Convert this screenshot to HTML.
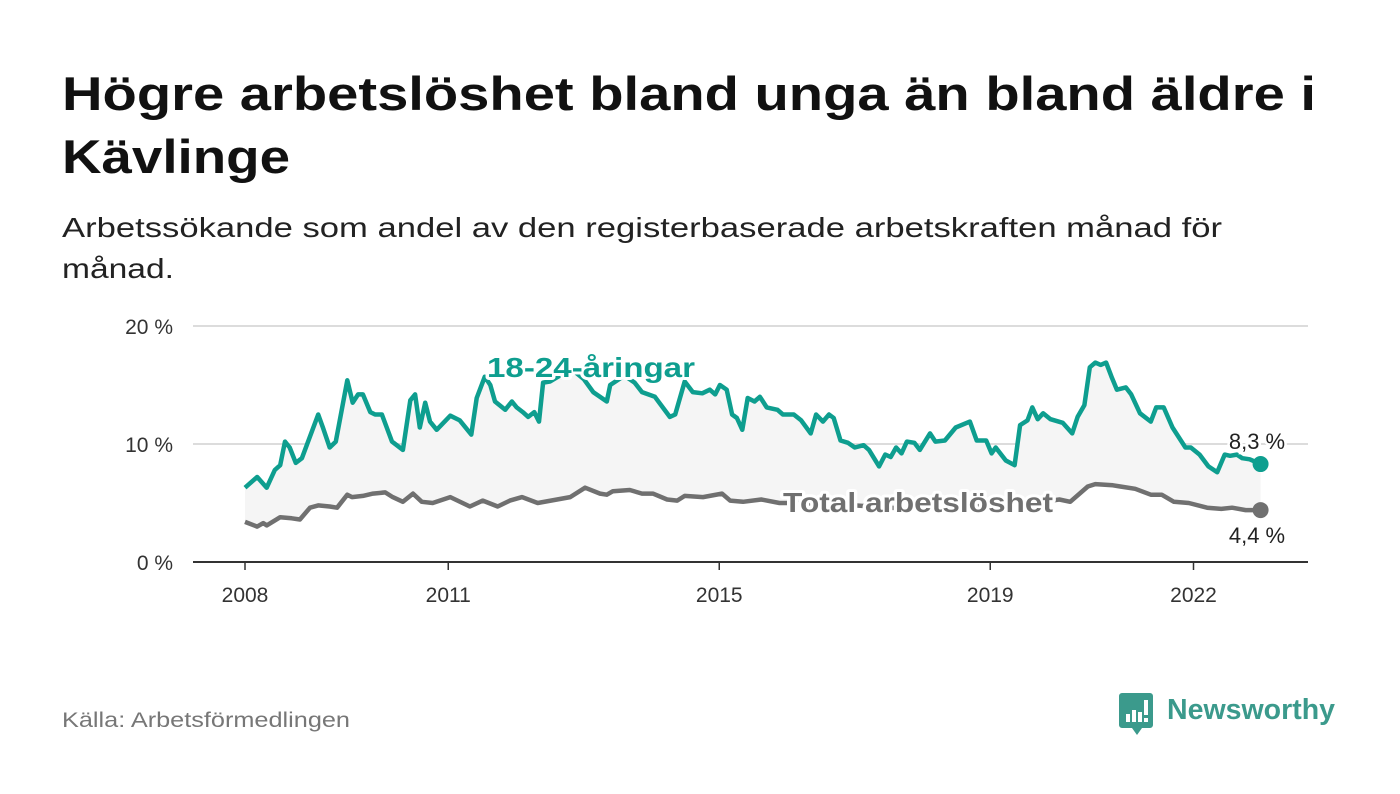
<!DOCTYPE html>
<html><head><meta charset="utf-8">
<style>
html,body{margin:0;padding:0;background:#fff;}
svg{display:block;font-family:"Liberation Sans",sans-serif;}
</style></head>
<body>
<svg id="chart" width="1400" height="794" viewBox="0 0 1400 794">
  <text x="62" y="110" font-size="47" font-weight="bold" fill="#111" textLength="1254" lengthAdjust="spacingAndGlyphs">Högre arbetslöshet bland unga än bland äldre i</text>
  <text x="62" y="173" font-size="47" font-weight="bold" fill="#111" textLength="228" lengthAdjust="spacingAndGlyphs">Kävlinge</text>
  <text x="62" y="237" font-size="28" fill="#222" textLength="1160" lengthAdjust="spacingAndGlyphs">Arbetssökande som andel av den registerbaserade arbetskraften månad för</text>
  <text x="62" y="278" font-size="28" fill="#222" textLength="112" lengthAdjust="spacingAndGlyphs">månad.</text>
  <g id="grid"></g>
  <g id="marks"></g>
  <text x="62" y="727" font-size="21" fill="#777" textLength="288" lengthAdjust="spacingAndGlyphs">Källa: Arbetsförmedlingen</text>
  <g>
    <path d="M1122 693 H1150 a3 3 0 0 1 3 3 V725 a3 3 0 0 1 -3 3 H1142 L1137 735 L1132 728 H1122 a3 3 0 0 1 -3 -3 V696 a3 3 0 0 1 3 -3Z" fill="#3b9a8c"/>
    <rect x="1126" y="714" width="4" height="8" fill="#fff"/>
    <rect x="1132" y="710" width="4" height="12" fill="#fff"/>
    <rect x="1138" y="712" width="4" height="10" fill="#fff"/>
    <rect x="1144" y="700" width="4" height="15" fill="#fff"/>
    <rect x="1144" y="718" width="4" height="4" fill="#fff"/>
    <text x="1167" y="719" font-size="29" font-weight="bold" fill="#3b9a8c" textLength="168" lengthAdjust="spacingAndGlyphs">Newsworthy</text>
  </g>
</svg>
<script>
const yTicks = [0, 10, 20];
const yTickLabels = ["0 %", "10 %", "20 %"];
const xTicks = [2008, 2011, 2015, 2019, 2022];
const youngDates = [2008.0,2008.18,2008.32,2008.44,2008.52,2008.59,2008.66,2008.75,2008.84,2009.08,2009.15,2009.25,2009.34,2009.51,2009.59,2009.67,2009.74,2009.85,2009.92,2010.02,2010.17,2010.33,2010.44,2010.51,2010.58,2010.66,2010.73,2010.83,2011.03,2011.17,2011.34,2011.42,2011.54,2011.62,2011.69,2011.84,2011.94,2012.01,2012.10,2012.18,2012.27,2012.34,2012.40,2012.50,2012.65,2012.85,2013.0,2013.14,2013.34,2013.39,2013.6,2013.75,2013.86,2014.05,2014.27,2014.35,2014.49,2014.61,2014.75,2014.86,2014.94,2015.01,2015.11,2015.19,2015.26,2015.34,2015.42,2015.52,2015.60,2015.70,2015.86,2015.94,2016.10,2016.21,2016.35,2016.43,2016.53,2016.62,2016.69,2016.79,2016.90,2017.00,2017.13,2017.21,2017.36,2017.45,2017.53,2017.61,2017.69,2017.77,2017.88,2017.96,2018.11,2018.19,2018.33,2018.49,2018.70,2018.80,2018.94,2019.02,2019.08,2019.23,2019.36,2019.44,2019.55,2019.62,2019.70,2019.78,2019.89,2020.07,2020.21,2020.29,2020.39,2020.47,2020.55,2020.63,2020.71,2020.79,2020.87,2021.00,2021.08,2021.21,2021.37,2021.45,2021.56,2021.69,2021.88,2021.96,2022.09,2022.22,2022.35,2022.46,2022.54,2022.64,2022.72,2022.83,2022.99];
const youngValues = [6.3,7.2,6.3,7.8,8.2,10.2,9.7,8.4,8.8,12.5,11.4,9.7,10.2,15.4,13.5,14.2,14.2,12.7,12.5,12.5,10.2,9.5,13.7,14.2,11.4,13.5,11.9,11.2,12.4,12.0,10.8,13.9,15.7,15.0,13.6,12.9,13.6,13.1,12.7,12.3,12.7,11.9,15.2,15.3,15.8,16.2,15.5,14.4,13.6,15.0,15.8,15.2,14.4,14.0,12.3,12.5,15.3,14.4,14.3,14.6,14.2,15.0,14.6,12.5,12.2,11.2,13.9,13.6,14.0,13.1,12.9,12.5,12.5,12.0,10.9,12.5,11.9,12.5,12.2,10.3,10.1,9.7,9.9,9.5,8.1,9.1,8.9,9.7,9.2,10.2,10.1,9.5,10.9,10.2,10.3,11.4,11.9,10.3,10.3,9.2,9.7,8.6,8.2,11.6,12.0,13.1,12.1,12.6,12.1,11.8,10.9,12.3,13.3,16.5,16.9,16.7,16.9,15.7,14.6,14.8,14.2,12.6,11.9,13.1,13.1,11.4,9.7,9.7,9.1,8.1,7.6,9.1,9.0,9.1,8.8,8.7,8.3];
const totalDates = [2008.0,2008.18,2008.27,2008.32,2008.52,2008.69,2008.81,2008.96,2009.08,2009.25,2009.36,2009.51,2009.58,2009.74,2009.89,2010.07,2010.18,2010.33,2010.48,2010.61,2010.77,2011.03,2011.32,2011.51,2011.73,2011.91,2012.09,2012.32,2012.80,2013.02,2013.24,2013.34,2013.43,2013.68,2013.86,2014.02,2014.23,2014.38,2014.49,2014.76,2015.04,2015.16,2015.35,2015.62,2015.89,2016.2,2016.6,2017.0,2017.5,2018.0,2018.5,2019.0,2019.5,2020.02,2020.18,2020.44,2020.55,2020.81,2020.92,2021.14,2021.37,2021.53,2021.71,2021.93,2022.20,2022.41,2022.57,2022.77,2022.99];
const totalValues = [3.4,3.0,3.3,3.1,3.8,3.7,3.6,4.6,4.8,4.7,4.6,5.7,5.5,5.6,5.8,5.9,5.5,5.1,5.8,5.1,5.0,5.5,4.7,5.2,4.7,5.2,5.5,5.0,5.5,6.3,5.8,5.7,6.0,6.1,5.8,5.8,5.3,5.2,5.6,5.5,5.8,5.2,5.1,5.3,5.0,5.0,4.9,4.8,4.6,4.5,4.6,4.8,4.9,5.3,5.1,6.4,6.6,6.5,6.4,6.2,5.7,5.7,5.1,5.0,4.6,4.5,4.6,4.4,4.4];
const lastLabels = ["8,3 %", "4,4 %"];

const NS = "http://www.w3.org/2000/svg";
const X0 = 193, X1 = 1308, Y0 = 562;
function xs(t){ return 245 + (t - 2008) * 67.75; }
function ys(v){ return Y0 - v * 11.8; }
function mk(tag, attrs, parent){
  const e = document.createElementNS(NS, tag);
  for (const k in attrs) e.setAttribute(k, attrs[k]);
  parent.appendChild(e);
  return e;
}
const grid = document.getElementById('grid');
const marks = document.getElementById('marks');

yTicks.forEach((v, i) => {
  if (v > 0) {
    const l = mk('line', {x1:X0, x2:X1, y1:ys(v), y2:ys(v), stroke:'#dcdcdc', 'stroke-width':2}, grid);
    
    
  }
  const t = mk('text', {x:173, y:ys(v)+8, 'text-anchor':'end', 'font-size':21, fill:'#333'}, grid);
  t.textContent = yTickLabels[i];
  
  
});
xTicks.forEach(yr => {
  const tk = mk('line', {x1:xs(yr), x2:xs(yr), y1:Y0, y2:Y0+8, stroke:'#333', 'stroke-width':1.5}, grid);
  
  
  const t = mk('text', {x:xs(yr), y:602, 'text-anchor':'middle', 'font-size':21, fill:'#333'}, grid);
  t.textContent = String(yr);
  
  
});

let d = '';
youngDates.forEach((t, i) => { d += (i ? 'L' : 'M') + xs(t).toFixed(1) + ' ' + ys(youngValues[i]).toFixed(1); });
for (let i = totalDates.length - 1; i >= 0; i--) d += 'L' + xs(totalDates[i]).toFixed(1) + ' ' + ys(totalValues[i]).toFixed(1);
const area = mk('path', {d: d + 'Z', fill:'#f5f5f5'}, marks);



const axis = mk('line', {x1:X0, x2:X1, y1:Y0, y2:Y0, stroke:'#333', 'stroke-width':2}, marks);



function line(dates, vals, color, name){
  const pts = dates.map((t, i) => xs(t).toFixed(1) + ',' + ys(vals[i]).toFixed(1)).join(' ');
  const p = mk('polyline', {points: pts, fill:'none', stroke: color, 'stroke-width':4.5, 'stroke-linejoin':'round'}, marks);
  
  
  const n = dates.length - 1;
  const c = mk('circle', {cx: xs(dates[n]), cy: ys(vals[n]), r: 8, fill: color}, marks);
  
  
}
line(totalDates, totalValues, '#707070', 'total-line');
line(youngDates, youngValues, '#0e9e8f', 'young-line');

function label(x, y, txt, color, name, len){
  const t = mk('text', {x:x, y:y, 'font-size':28, 'font-weight':'bold', fill:color, stroke:'#fff', 'stroke-width':6, 'paint-order':'stroke', 'stroke-linejoin':'round', textLength:len, lengthAdjust:'spacingAndGlyphs'}, marks);
  t.textContent = txt;
  
  
}
label(487, 377, '18-24-åringar', '#0e9e8f', 'young-series-label', 208);
label(783, 512, 'Total arbetslöshet', '#707070', 'total-series-label', 270);

const nY = youngValues.length - 1, nT = totalValues.length - 1;
const l1 = mk('text', {x:1257, y:ys(youngValues[nY]) - 15, 'text-anchor':'middle', 'font-size':22, fill:'#222', stroke:'#fff', 'stroke-width':5, 'paint-order':'stroke'}, marks);
l1.textContent = lastLabels[0];


const l2 = mk('text', {x:1257, y:ys(totalValues[nT]) + 33, 'text-anchor':'middle', 'font-size':22, fill:'#222'}, marks);
l2.textContent = lastLabels[1];


</script>
</body></html>
